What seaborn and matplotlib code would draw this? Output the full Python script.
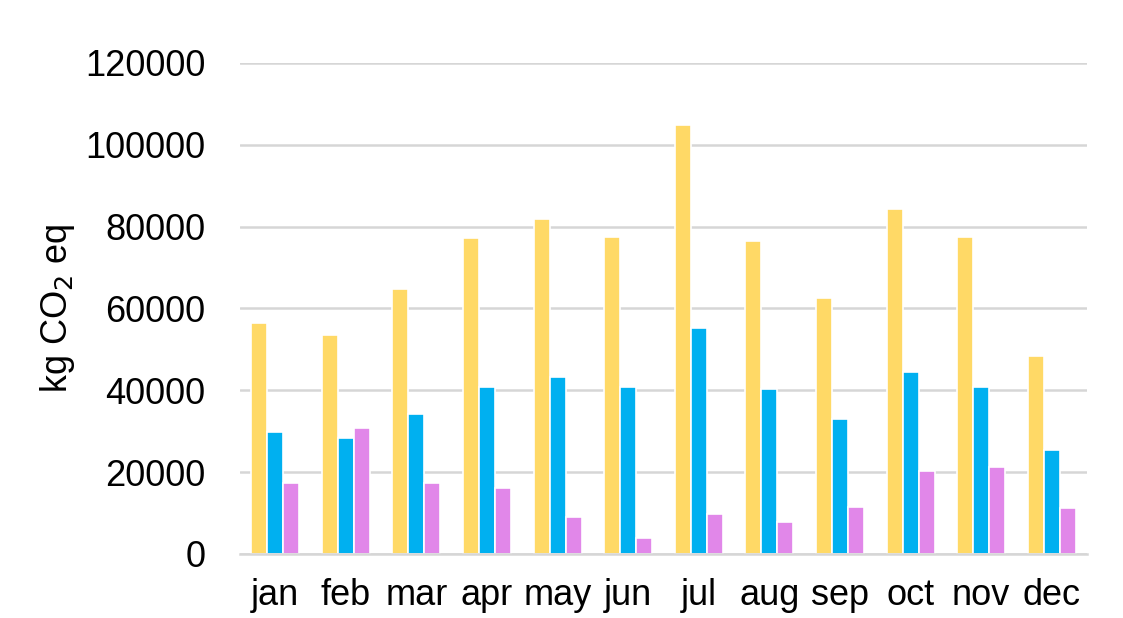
import numpy as np
import pandas as pd
import matplotlib
matplotlib.use("Agg")
import matplotlib.pyplot as plt
import seaborn as sns

# monthly emissions, kg CO2 eq
months = ["jan", "feb", "mar", "apr", "may", "jun",
          "jul", "aug", "sep", "oct", "nov", "dec"]
series_a = [56400, 53400, 64800, 77300, 81800, 77400,
            104800, 76400, 62600, 84200, 77400, 48400]
series_b = [29800, 28300, 34200, 40800, 43200, 40800,
            55200, 40300, 33000, 44400, 40800, 25500]
series_c = [17400, 30700, 17400, 16100, 9100, 3800,
            9700, 7900, 11400, 20400, 21300, 11200]
series_names = ["a", "b", "c"]
colors = ["#FFD966", "#00B0F0", "#E187E9"]

df = pd.DataFrame({
    "month": months * 3,
    "series": np.repeat(series_names, len(months)),
    "value": series_a + series_b + series_c,
})

sns.set_style("white")
plt.rcParams["font.family"] = ["Liberation Sans", "DejaVu Sans"]
plt.rcParams["text.color"] = "black"
plt.rcParams["xtick.color"] = "black"
plt.rcParams["ytick.color"] = "black"
plt.rcParams["axes.labelcolor"] = "black"

fig = plt.figure(figsize=(11.23, 6.18), dpi=100)
ax = fig.add_axes([0.2137, 0.1036, 0.7543, 0.7945])

sns.barplot(data=df, x="month", y="value", hue="series", palette=colors,
            saturation=1, width=0.68, edgecolor="white", linewidth=1.2,
            ax=ax, legend=False)

ax.set_ylim(0, 120000)
ax.set_yticks(np.arange(0, 120001, 20000))
ax.yaxis.grid(True, color="#D6D6D6", linewidth=1.8)
ax.set_axisbelow(True)
for s in ["top", "right", "left"]:
    ax.spines[s].set_visible(False)
ax.spines["bottom"].set_color("#D6D6D6")
ax.spines["bottom"].set_linewidth(1.8)

ax.tick_params(axis="y", length=0, pad=25, labelsize=26)
ax.tick_params(axis="x", length=0, pad=17, labelsize=26)
ax.set_xlabel("")
ax.set_ylabel("kg CO$_2$ eq", fontsize=26)
ax.yaxis.set_label_coords(-0.192, 0.5)

fig.savefig("out.png", dpi=100)
